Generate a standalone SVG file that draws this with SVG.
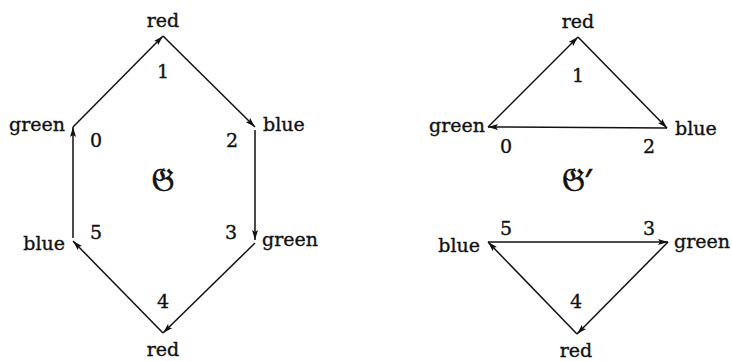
<svg xmlns="http://www.w3.org/2000/svg" width="732" height="361" viewBox="0 0 732 361">
<defs>
<style>
text{font-family:"DejaVu Serif","Liberation Serif",serif;font-size:19px;fill:#111;stroke:#111;stroke-width:0.35}
.e{stroke:#111;stroke-width:1.5;fill:none;marker-end:url(#ah)}
.fr{font-family:"Noto Sans Math","DejaVu Sans","Noto Sans",serif;font-size:30px;stroke-width:0.7}
</style>
<marker id="ah" viewBox="0 0 10 6" refX="10" refY="3" markerWidth="10" markerHeight="6" markerUnits="userSpaceOnUse" orient="auto">
<path d="M0,0 L10,3 L0,6 L2,3 Z" fill="#111"/>
</marker>
</defs>
<rect width="732" height="361" fill="#fff"/>
<g id="connectors">
<line class="e" x1="73" y1="127" x2="163" y2="36"/>
<line class="e" x1="163" y1="36" x2="255" y2="127"/>
<line class="e" x1="255" y1="130" x2="255" y2="240"/>
<line class="e" x1="255" y1="243" x2="163" y2="333"/>
<line class="e" x1="163" y1="333" x2="73" y2="241"/>
<line class="e" x1="73" y1="238" x2="73" y2="127"/>
<line class="e" x1="488" y1="127" x2="578" y2="37"/>
<line class="e" x1="578" y1="37" x2="667" y2="128"/>
<line class="e" x1="667" y1="128" x2="488" y2="127"/>
<line class="e" x1="488" y1="242" x2="668" y2="242"/>
<line class="e" x1="668" y1="242" x2="577" y2="334"/>
<line class="e" x1="577" y1="334" x2="488" y2="242"/>
</g>
<g id="G">
<g id="g1"><text x="163" y="27" text-anchor="middle">red</text><text x="163" y="78" text-anchor="middle">1</text></g>
<g id="g0"><text x="65" y="131" text-anchor="end">green</text><text x="96" y="147" text-anchor="middle">0</text></g>
<g id="g2"><text x="263" y="131">blue</text><text x="232" y="147" text-anchor="middle">2</text></g>
<g id="g3"><text x="262" y="246">green</text><text x="231" y="239" text-anchor="middle">3</text></g>
<g id="g5"><text x="65" y="250" text-anchor="end">blue</text><text x="96" y="239" text-anchor="middle">5</text></g>
<g id="g4"><text x="163" y="356" text-anchor="middle">red</text><text x="163" y="308" text-anchor="middle">4</text></g>
<text class="fr" x="163" y="191" text-anchor="middle">𝔊</text>
</g>
<g id="Gprime">
<g id="h1"><text x="578" y="28" text-anchor="middle">red</text><text x="578" y="82" text-anchor="middle">1</text></g>
<g id="h0"><text x="485" y="132" text-anchor="end">green</text><text x="506" y="153" text-anchor="middle">0</text></g>
<g id="h2"><text x="675" y="135">blue</text><text x="649" y="153" text-anchor="middle">2</text></g>
<g id="h5"><text x="480" y="252" text-anchor="end">blue</text><text x="506" y="235" text-anchor="middle">5</text></g>
<g id="h3"><text x="674" y="248">green</text><text x="649" y="235" text-anchor="middle">3</text></g>
<g id="h4"><text x="576" y="357" text-anchor="middle">red</text><text x="576" y="308" text-anchor="middle">4</text></g>
<text class="fr" x="577" y="191" text-anchor="middle">𝔊′</text>
</g>
</svg>
